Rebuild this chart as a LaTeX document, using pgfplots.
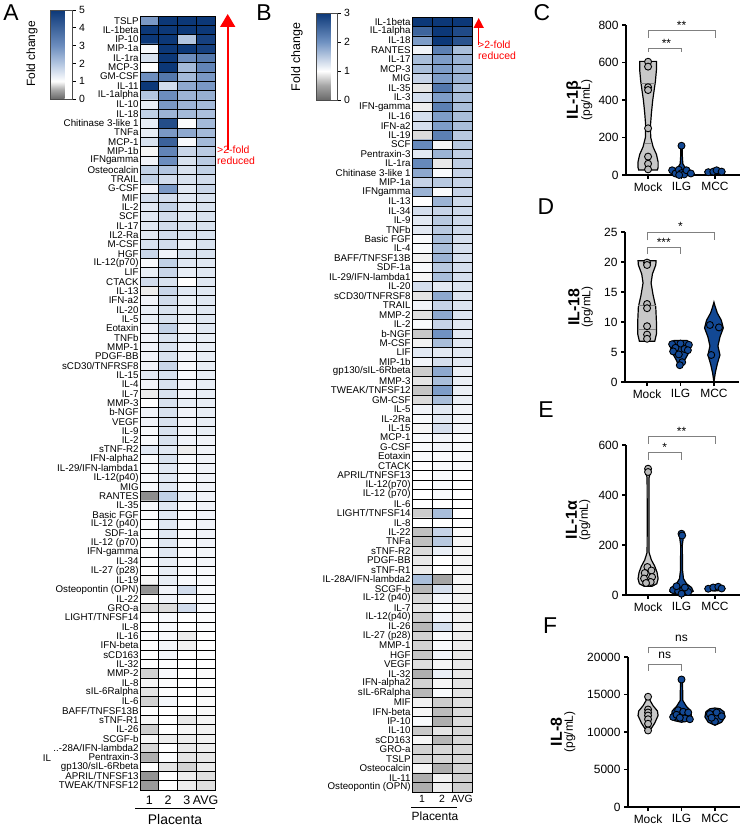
\documentclass[border=0pt]{standalone}
\usepackage{pgfplots}
\pgfplotsset{compat=1.18}
\usepackage{fontspec}
\setmainfont{Liberation Sans}
\usetikzlibrary{arrows.meta}
\definecolor{vblue}{RGB}{18,72,148}
\definecolor{vgray}{RGB}{200,200,200}
\definecolor{pgray}{RGB}{185,185,185}
\definecolor{bgray}{RGB}{128,128,128}
\pgfplotsset{
 colormap={heatA}{rgb255(0cm)=(105,105,105) rgb255(0.5cm)=(165,165,165) rgb255(1cm)=(255,255,255) rgb255(2cm)=(178,197,224) rgb255(3cm)=(108,141,190) rgb255(5cm)=(12,56,120)},
 colormap={heatB}{rgb255(0cm)=(105,105,105) rgb255(0.5cm)=(165,165,165) rgb255(1cm)=(255,255,255) rgb255(2cm)=(112,146,194) rgb255(3cm)=(12,56,120)},
 heat/.style={
  scale only axis, enlargelimits=false, y dir=reverse,
  major tick length=0pt, minor tick length=0pt,
  grid=minor, minor grid style={black, line width=0.7pt},
  axis line style={black, line width=0.8pt},
  axis on top,
  yticklabel style={font=\fontsize{9.8}{10}\selectfont, inner sep=1.2pt},
 },
 vio/.style={
  scale only axis, width=114bp, height=150bp,
  axis x line*=bottom, axis y line*=left,
  axis line style={line width=1.2pt,-},
  xmin=-0.66, xmax=2.75,
  xtick={0,1,2}, xticklabels={Mock,ILG,MCC},
  tick style={black, line width=1.2pt},
  major tick length=4bp, tick align=outside,
  tick label style={font=\fontsize{12}{12}\selectfont, /pgf/number format/assume math mode=true},
  clip=false, ymin=0,
  ylabel style={align=center, anchor=center},
  scaled y ticks=false,
  yticklabel style={/pgf/number format/fixed, /pgf/number format/1000 sep={}},
 },
 mockpt/.style={only marks, mark=*, mark size=3.5bp, mark options={fill=pgray, draw=black, line width=0.9pt}},
 bluept/.style={only marks, mark=*, mark size=3.5bp, mark options={fill=vblue, draw=black, line width=0.9pt}},
 mockv/.style={fill=vgray, draw=black, line width=1.2pt},
 bluev/.style={fill=vblue, draw=black, line width=1.2pt},
 brk/.style={bgray, line width=0.8pt},
}
\begin{document}
\begin{tikzpicture}
\useasboundingbox (0,0) rectangle (741bp,827bp);
% ---------------- Panel A ----------------
\begin{axis}[heat,
  at={(140bp,37bp)}, anchor=south west, width=75bp, height=774bp,
  xmin=-0.5, xmax=3.5, ymin=-0.5, ymax=82.5,
  colormap name=heatA, point meta min=0, point meta max=5,
  xtick={0,1,2,3}, xticklabels={1,2,3,AVG},
  xticklabel style={font=\fontsize{12.5}{12.5}\selectfont, yshift=-2bp},
  minor xtick={0.5,1.5,2.5}, minor ytick={0.5,1.5,...,81.5},
  ytick={0,...,82},
  yticklabels={TSLP,IL-1beta,IP-10,MIP-1a,IL-1ra,MCP-3,GM-CSF,IL-11,IL-1alpha,IL-10,IL-18,Chitinase 3-like 1,TNFa,MCP-1,MIP-1b,IFNgamma,Osteocalcin,TRAIL,G-CSF,MIF,IL-2,SCF,IL-17,IL2-Ra,M-CSF,HGF,IL-12(p70),LIF,CTACK,IL-13,IFN-a2,IL-20,IL-5,Eotaxin,TNFb,MMP-1,PDGF-BB,sCD30/TNFRSF8,IL-15,IL-4,IL-7,MMP-3,b-NGF,VEGF,IL-9,IL-2,sTNF-R2,IFN-alpha2,IL-29/IFN-lambda1,IL-12(p40),MIG,RANTES,IL-35,Basic FGF,IL-12 (p40),SDF-1a,IL-12 (p70),IFN-gamma,IL-34,IL-27 (p28),IL-19,Osteopontin (OPN),IL-22,GRO-a,LIGHT/TNFSF14,IL-8,IL-16,IFN-beta,sCD163,IL-32,MMP-2,IL-8,sIL-6Ralpha,IL-6,BAFF/TNFSF13B,sTNF-R1,IL-26,SCGF-b,..-28A/IFN-lambda2,Pentraxin-3,gp130/sIL-6Rbeta,APRIL/TNFSF13,TWEAK/TNFSF12},
  colorbar,
  colorbar style={
    at={(parent axis.north west)}, anchor=north west,
    xshift=-98bp, yshift=6bp,
    scale only axis, width=22bp, height=89bp,
    grid=none, ytick={0,1,2,3,4,5}, ytick pos=right,
    major tick length=3bp, tick align=outside,
    tick style={black, line width=0.6pt},
    yticklabel style={font=\fontsize{10.5}{10.5}\selectfont, /pgf/number format/assume math mode=true},
    axis line style={draw=black!70, line width=0.5pt},
  },
]
\addplot[matrix plot*, mesh/cols=4, mesh input=image, point meta=explicit] table[x=x, y=y, meta=c, row sep=\\] {
x y c\\
0 0 2.8\\ 1 0 5\\ 2 0 5\\ 3 0 5\\
0 1 5\\ 1 1 5\\ 2 1 5\\ 3 1 5\\
0 2 5\\ 1 2 5\\ 2 2 2.0\\ 3 2 4.8\\
0 3 1.1\\ 1 3 5\\ 2 3 5\\ 3 3 4.8\\
0 4 1.5\\ 1 4 5\\ 2 4 3.0\\ 3 4 3.5\\
0 5 1.0\\ 1 5 5\\ 2 5 2.2\\ 3 5 3.2\\
0 6 3.0\\ 1 6 3.5\\ 2 6 2.2\\ 3 6 2.8\\
0 7 5\\ 1 7 1.6\\ 2 7 2.5\\ 3 7 2.8\\
0 8 2.0\\ 1 8 3.0\\ 2 8 2.3\\ 3 8 2.4\\
0 9 1.3\\ 1 9 2.8\\ 2 9 2.3\\ 3 9 2.2\\
0 10 1.8\\ 1 10 2.3\\ 2 10 2.2\\ 3 10 2.1\\
0 11 1.3\\ 1 11 4.5\\ 2 11 1.05\\ 3 11 2.2\\
0 12 1.3\\ 1 12 2.8\\ 2 12 2.5\\ 3 12 2.2\\
0 13 1.5\\ 1 13 4.0\\ 2 13 1.1\\ 3 13 2.2\\
0 14 0.95\\ 1 14 3.2\\ 2 14 1.7\\ 3 14 1.9\\
0 15 1.2\\ 1 15 3.0\\ 2 15 1.5\\ 3 15 1.9\\
0 16 1.8\\ 1 16 2.0\\ 2 16 1.5\\ 3 16 1.8\\
0 17 1.8\\ 1 17 1.6\\ 2 17 1.5\\ 3 17 1.6\\
0 18 1.2\\ 1 18 2.8\\ 2 18 1.4\\ 3 18 1.7\\
0 19 1.6\\ 1 19 1.6\\ 2 19 1.4\\ 3 19 1.5\\
0 20 1.4\\ 1 20 1.8\\ 2 20 1.4\\ 3 20 1.5\\
0 21 1.4\\ 1 21 1.6\\ 2 21 1.4\\ 3 21 1.5\\
0 22 1.4\\ 1 22 1.6\\ 2 22 1.5\\ 3 22 1.5\\
0 23 1.4\\ 1 23 1.6\\ 2 23 1.5\\ 3 23 1.5\\
0 24 1.5\\ 1 24 1.6\\ 2 24 1.3\\ 3 24 1.5\\
0 25 1.7\\ 1 25 1.2\\ 2 25 1.5\\ 3 25 1.5\\
0 26 1.1\\ 1 26 1.8\\ 2 26 1.4\\ 3 26 1.4\\
0 27 1.3\\ 1 27 1.7\\ 2 27 1.3\\ 3 27 1.4\\
0 28 1.6\\ 1 28 1.5\\ 2 28 1.0\\ 3 28 1.4\\
0 29 0.9\\ 1 29 1.7\\ 2 29 1.4\\ 3 29 1.4\\
0 30 1.2\\ 1 30 1.6\\ 2 30 1.3\\ 3 30 1.4\\
0 31 1.3\\ 1 31 1.5\\ 2 31 1.3\\ 3 31 1.4\\
0 32 1.3\\ 1 32 1.5\\ 2 32 1.3\\ 3 32 1.4\\
0 33 1.2\\ 1 33 1.8\\ 2 33 1.2\\ 3 33 1.4\\
0 34 1.2\\ 1 34 1.5\\ 2 34 1.3\\ 3 34 1.3\\
0 35 1.2\\ 1 35 1.5\\ 2 35 1.2\\ 3 35 1.3\\
0 36 1.2\\ 1 36 1.5\\ 2 36 1.2\\ 3 36 1.3\\
0 37 1.2\\ 1 37 1.7\\ 2 37 1.1\\ 3 37 1.3\\
0 38 1.4\\ 1 38 1.5\\ 2 38 1.1\\ 3 38 1.3\\
0 39 1.2\\ 1 39 1.5\\ 2 39 1.2\\ 3 39 1.3\\
0 40 0.9\\ 1 40 1.5\\ 2 40 1.2\\ 3 40 1.3\\
0 41 1.0\\ 1 41 1.5\\ 2 41 1.3\\ 3 41 1.3\\
0 42 1.2\\ 1 42 1.5\\ 2 42 1.2\\ 3 42 1.3\\
0 43 1.2\\ 1 43 1.5\\ 2 43 1.2\\ 3 43 1.3\\
0 44 1.1\\ 1 44 1.5\\ 2 44 1.2\\ 3 44 1.3\\
0 45 1.1\\ 1 45 1.5\\ 2 45 1.2\\ 3 45 1.2\\
0 46 1.4\\ 1 46 1.4\\ 2 46 0.9\\ 3 46 1.2\\
0 47 1.1\\ 1 47 1.5\\ 2 47 1.1\\ 3 47 1.2\\
0 48 1.1\\ 1 48 1.4\\ 2 48 1.1\\ 3 48 1.2\\
0 49 1.1\\ 1 49 1.4\\ 2 49 1.1\\ 3 49 1.2\\
0 50 1.1\\ 1 50 1.4\\ 2 50 1.1\\ 3 50 1.2\\
0 51 0.3\\ 1 51 1.8\\ 2 51 1.3\\ 3 51 1.2\\
0 52 1.1\\ 1 52 1.4\\ 2 52 1.1\\ 3 52 1.2\\
0 53 1.05\\ 1 53 1.4\\ 2 53 1.1\\ 3 53 1.2\\
0 54 1.05\\ 1 54 1.4\\ 2 54 1.1\\ 3 54 1.2\\
0 55 1.05\\ 1 55 1.4\\ 2 55 1.1\\ 3 55 1.2\\
0 56 1.05\\ 1 56 1.4\\ 2 56 1.1\\ 3 56 1.2\\
0 57 1.05\\ 1 57 1.4\\ 2 57 1.1\\ 3 57 1.15\\
0 58 1.05\\ 1 58 1.3\\ 2 58 1.1\\ 3 58 1.15\\
0 59 1.0\\ 1 59 1.3\\ 2 59 1.1\\ 3 59 1.1\\
0 60 0.95\\ 1 60 1.3\\ 2 60 1.1\\ 3 60 1.1\\
0 61 0.35\\ 1 61 1.2\\ 2 61 1.6\\ 3 61 1.1\\
0 62 1.0\\ 1 62 1.2\\ 2 62 1.05\\ 3 62 1.1\\
0 63 0.8\\ 1 63 0.8\\ 2 63 1.6\\ 3 63 1.1\\
0 64 1.0\\ 1 64 1.1\\ 2 64 1.0\\ 3 64 1.05\\
0 65 1.0\\ 1 65 1.1\\ 2 65 1.0\\ 3 65 1.05\\
0 66 1.05\\ 1 66 1.1\\ 2 66 0.9\\ 3 66 1.0\\
0 67 1.0\\ 1 67 1.15\\ 2 67 0.92\\ 3 67 1.0\\
0 68 1.0\\ 1 68 1.15\\ 2 68 1.0\\ 3 68 1.05\\
0 69 1.0\\ 1 69 1.05\\ 2 69 1.0\\ 3 69 1.0\\
0 70 0.75\\ 1 70 1.1\\ 2 70 1.0\\ 3 70 0.97\\
0 71 0.95\\ 1 71 1.05\\ 2 71 1.0\\ 3 71 1.0\\
0 72 0.85\\ 1 72 1.05\\ 2 72 1.0\\ 3 72 0.97\\
0 73 0.75\\ 1 73 1.15\\ 2 73 1.0\\ 3 73 0.97\\
0 74 1.0\\ 1 74 1.0\\ 2 74 1.0\\ 3 74 0.96\\
0 75 0.95\\ 1 75 1.0\\ 2 75 0.88\\ 3 75 0.94\\
0 76 0.72\\ 1 76 1.0\\ 2 76 0.95\\ 3 76 0.92\\
0 77 0.95\\ 1 77 0.9\\ 2 77 0.9\\ 3 77 0.92\\
0 78 0.78\\ 1 78 1.0\\ 2 78 0.88\\ 3 78 0.9\\
0 79 0.55\\ 1 79 1.05\\ 2 79 0.85\\ 3 79 0.86\\
0 80 1.0\\ 1 80 0.85\\ 2 80 0.75\\ 3 80 0.88\\
0 81 0.35\\ 1 81 1.0\\ 2 81 0.9\\ 3 81 0.82\\
0 82 0.4\\ 1 82 1.0\\ 2 82 0.9\\ 3 82 0.82\\
};
\end{axis}
% ---------------- Panel B ----------------
\begin{axis}[heat,
  at={(412bp,35bp)}, anchor=south west, width=60bp, height=775bp,
  xmin=-0.5, xmax=2.5, ymin=-0.5, ymax=81.5,
  colormap name=heatB, point meta min=0, point meta max=3,
  xtick={0,1,2}, xticklabels={1,2,AVG},
  xticklabel style={font=\fontsize{10.5}{10.5}\selectfont},
  minor xtick={0.5,1.5}, minor ytick={0.5,1.5,...,80.5},
  ytick={0,...,81},
  yticklabels={IL-1beta,IL-1alpha,IL-18,RANTES,IL-17,MCP-3,MIG,IL-35,IL-3,IFN-gamma,IL-16,IFN-a2,IL-19,SCF,Pentraxin-3,IL-1ra,Chitinase 3-like 1,MIP-1a,IFNgamma,IL-13,IL-34,IL-9,TNFb,Basic FGF,IL-4,BAFF/TNFSF13B,SDF-1a,IL-29/IFN-lambda1,IL-20,sCD30/TNFRSF8,TRAIL,MMP-2,IL-2,b-NGF,M-CSF,LIF,MIP-1b,gp130/sIL-6Rbeta,MMP-3,TWEAK/TNFSF12,GM-CSF,IL-5,IL-2Ra,IL-15,MCP-1,G-CSF,Eotaxin,CTACK,APRIL/TNFSF13,IL-12(p70),IL-12 (p70),IL-6,LIGHT/TNFSF14,IL-8,IL-22,TNFa,sTNF-R2,PDGF-BB,sTNF-R1,IL-28A/IFN-lambda2,SCGF-b,IL-12 (p40),IL-7,IL-12(p40),IL-26,IL-27 (p28),MMP-1,HGF,VEGF,IL-32,IFN-alpha2,sIL-6Ralpha,MIF,IFN-beta,IP-10,IL-10,sCD163,GRO-a,TSLP,Osteocalcin,IL-11,Osteopontin (OPN)},
  colorbar,
  colorbar style={
    at={(parent axis.north west)}, anchor=north west,
    xshift=-104bp, yshift=4bp,
    scale only axis, width=21bp, height=87bp,
    grid=none, ytick={0,1,2,3}, ytick pos=right,
    major tick length=3bp, tick align=outside,
    tick style={black, line width=0.6pt},
    yticklabel style={font=\fontsize{10.5}{10.5}\selectfont, /pgf/number format/assume math mode=true},
    axis line style={draw=black!70, line width=0.5pt},
  },
]
\addplot[matrix plot*, mesh/cols=3, mesh input=image, point meta=explicit] table[x=x, y=y, meta=c, row sep=\\] {
x y c\\
0 0 3\\ 1 0 3\\ 2 0 3\\
0 1 2.5\\ 1 1 3\\ 2 1 2.8\\
0 2 1.9\\ 1 2 3\\ 2 2 2.7\\
0 3 1.1\\ 1 3 2.2\\ 2 3 1.6\\
0 4 1.6\\ 1 4 1.9\\ 2 4 1.7\\
0 5 1.6\\ 1 5 1.9\\ 2 5 1.7\\
0 6 1.4\\ 1 6 1.9\\ 2 6 1.7\\
0 7 0.85\\ 1 7 2.3\\ 2 7 1.6\\
0 8 1.3\\ 1 8 1.9\\ 2 8 1.6\\
0 9 0.9\\ 1 9 2.2\\ 2 9 1.6\\
0 10 1.3\\ 1 10 1.9\\ 2 10 1.6\\
0 11 1.3\\ 1 11 1.9\\ 2 11 1.6\\
0 12 0.8\\ 1 12 2.2\\ 2 12 1.5\\
0 13 2.1\\ 1 13 0.95\\ 2 13 1.5\\
0 14 1.2\\ 1 14 1.7\\ 2 14 1.45\\
0 15 2.1\\ 1 15 0.88\\ 2 15 1.45\\
0 16 1.8\\ 1 16 1.05\\ 2 16 1.4\\
0 17 1.4\\ 1 17 1.5\\ 2 17 1.4\\
0 18 1.7\\ 1 18 1.05\\ 2 18 1.4\\
0 19 1.0\\ 1 19 1.7\\ 2 19 1.35\\
0 20 1.3\\ 1 20 1.4\\ 2 20 1.35\\
0 21 1.2\\ 1 21 1.5\\ 2 21 1.35\\
0 22 1.2\\ 1 22 1.5\\ 2 22 1.35\\
0 23 1.05\\ 1 23 1.6\\ 2 23 1.3\\
0 24 1.05\\ 1 24 1.6\\ 2 24 1.3\\
0 25 0.92\\ 1 25 1.7\\ 2 25 1.3\\
0 26 1.05\\ 1 26 1.5\\ 2 26 1.3\\
0 27 0.95\\ 1 27 1.6\\ 2 27 1.3\\
0 28 1.3\\ 1 28 1.2\\ 2 28 1.25\\
0 29 0.85\\ 1 29 1.8\\ 2 29 1.25\\
0 30 1.1\\ 1 30 1.4\\ 2 30 1.25\\
0 31 0.82\\ 1 31 1.8\\ 2 31 1.25\\
0 32 1.05\\ 1 32 1.4\\ 2 32 1.2\\
0 33 0.7\\ 1 33 2.0\\ 2 33 1.2\\
0 34 0.93\\ 1 34 1.6\\ 2 34 1.2\\
0 35 1.2\\ 1 35 1.2\\ 2 35 1.2\\
0 36 1.1\\ 1 36 1.3\\ 2 36 1.2\\
0 37 0.72\\ 1 37 1.8\\ 2 37 1.15\\
0 38 0.85\\ 1 38 1.6\\ 2 38 1.15\\
0 39 0.68\\ 1 39 1.9\\ 2 39 1.15\\
0 40 0.8\\ 1 40 1.6\\ 2 40 1.15\\
0 41 1.1\\ 1 41 1.2\\ 2 41 1.1\\
0 42 1.05\\ 1 42 1.2\\ 2 42 1.1\\
0 43 0.95\\ 1 43 1.3\\ 2 43 1.1\\
0 44 1.05\\ 1 44 1.1\\ 2 44 1.05\\
0 45 1.05\\ 1 45 1.1\\ 2 45 1.05\\
0 46 1.05\\ 1 46 1.05\\ 2 46 1.05\\
0 47 1.0\\ 1 47 1.05\\ 2 47 1.05\\
0 48 1.0\\ 1 48 1.05\\ 2 48 1.0\\
0 49 1.0\\ 1 49 1.05\\ 2 49 1.0\\
0 50 1.0\\ 1 50 1.05\\ 2 50 1.0\\
0 51 1.0\\ 1 51 1.0\\ 2 51 1.0\\
0 52 0.72\\ 1 52 1.6\\ 2 52 1.0\\
0 53 1.0\\ 1 53 1.0\\ 2 53 1.0\\
0 54 0.65\\ 1 54 1.4\\ 2 54 0.97\\
0 55 0.65\\ 1 55 1.5\\ 2 55 0.95\\
0 56 0.8\\ 1 56 1.15\\ 2 56 0.95\\
0 57 0.88\\ 1 57 1.0\\ 2 57 0.95\\
0 58 0.9\\ 1 58 1.0\\ 2 58 0.95\\
0 59 1.6\\ 1 59 0.5\\ 2 59 0.95\\
0 60 0.6\\ 1 60 1.3\\ 2 60 0.93\\
0 61 0.78\\ 1 61 1.1\\ 2 61 0.93\\
0 62 0.85\\ 1 62 1.05\\ 2 62 0.93\\
0 63 0.72\\ 1 63 1.1\\ 2 63 0.92\\
0 64 0.6\\ 1 64 1.3\\ 2 64 0.92\\
0 65 0.75\\ 1 65 1.05\\ 2 65 0.9\\
0 66 0.75\\ 1 66 1.05\\ 2 66 0.9\\
0 67 0.68\\ 1 67 1.1\\ 2 67 0.88\\
0 68 0.82\\ 1 68 0.95\\ 2 68 0.88\\
0 69 0.55\\ 1 69 1.15\\ 2 69 0.87\\
0 70 0.75\\ 1 70 0.95\\ 2 70 0.85\\
0 71 0.6\\ 1 71 1.05\\ 2 71 0.85\\
0 72 0.92\\ 1 72 0.72\\ 2 72 0.83\\
0 73 0.95\\ 1 73 0.62\\ 2 73 0.8\\
0 74 1.05\\ 1 74 0.55\\ 2 74 0.8\\
0 75 0.7\\ 1 75 0.85\\ 2 75 0.78\\
0 76 0.95\\ 1 76 0.6\\ 2 76 0.78\\
0 77 0.75\\ 1 77 0.78\\ 2 77 0.78\\
0 78 0.78\\ 1 78 0.78\\ 2 78 0.78\\
0 79 0.95\\ 1 79 0.55\\ 2 79 0.75\\
0 80 0.55\\ 1 80 0.92\\ 2 80 0.73\\
0 81 0.55\\ 1 81 0.9\\ 2 81 0.72\\
};
\end{axis}
% ---------------- Panel C ----------------
\begin{axis}[vio, at={(626bp,652bp)}, anchor=south west,
  ymax=800, ytick={0,200,400,600,800},
  ylabel={{\fontsize{16}{16}\selectfont\bfseries IL-1β}\\[-1pt]{\fontsize{12}{13}\selectfont (pg/mL)}},
  ylabel style={at={(axis description cs:-0.41,0.5)}}]
\addplot[mockv] coordinates {(0.28,27)(0.30,40)(0.30,70)(0.25,110)(0.15,150)(0.08,200)(0.07,260)(0.10,330)(0.14,400)(0.18,450)(0.22,500)(0.25,560)(0.25,606)(-0.25,606)(-0.25,560)(-0.22,500)(-0.18,450)(-0.14,400)(-0.10,330)(-0.07,260)(-0.08,200)(-0.15,150)(-0.25,110)(-0.30,70)(-0.30,40)(-0.28,27)} -- cycle;
\addplot[bgray, line width=0.6pt] coordinates {(-0.085,169)(0.085,169)};
\addplot[bgray, line width=0.6pt] coordinates {(-0.2,489)(0.2,489)};
\addplot[mockpt] coordinates {(0,604)(0,578)(0,468)(0,453)(0,249)(0,98)(0,60)(0,30)};
\addplot[bluev] coordinates {(1.22,0)(1.30,12)(1.25,28)(1.10,42)(1.04,60)(1.025,100)(1.025,158)(0.975,158)(0.975,100)(0.96,60)(0.90,42)(0.75,28)(0.70,12)(0.78,0)} -- cycle;
\addplot[bluept] coordinates {(1,156)(0.72,25)(0.82,8)(0.92,28)(1.0,10)(1.08,3)(1.15,25)(1.28,8)(0.93,0)};
\addplot[bluev] coordinates {(2.28,8)(2.30,18)(2.22,28)(1.78,28)(1.70,18)(1.72,8)} -- cycle;
\addplot[bluept] coordinates {(1.8,15)(1.95,18)(2.05,25)(2.2,18)};
\addplot[brk] coordinates {(0,733)(0,773)(2,773)(2,733)};
\addplot[brk] coordinates {(0,655)(0,677)(1,677)(1,655)};
\node[anchor=base, font=\fontsize{12}{12}\selectfont, inner sep=0pt] at (axis cs:1,776) {**};
\node[anchor=base, font=\fontsize{12}{12}\selectfont, inner sep=0pt] at (axis cs:0.55,680) {**};
\end{axis}
% ---------------- Panel D ----------------
\begin{axis}[vio, at={(625bp,445bp)}, anchor=south west,
  ymax=25, ytick={0,5,10,15,20,25},
  ylabel={{\fontsize{16}{16}\selectfont\bfseries IL-18}\\[-1pt]{\fontsize{12}{13}\selectfont (pg/mL)}},
  ylabel style={at={(axis description cs:-0.39,0.5)}}]
\addplot[mockv] coordinates {(0.23,6.8)(0.28,8)(0.28,10)(0.26,12.5)(0.18,14.5)(0.12,16.5)(0.16,18)(0.26,19.5)(0.27,20.2)(-0.27,20.2)(-0.26,19.5)(-0.16,18)(-0.12,16.5)(-0.18,14.5)(-0.26,12.5)(-0.28,10)(-0.28,8)(-0.23,6.8)} -- cycle;
\addplot[bgray, line width=0.6pt] coordinates {(-0.26,12.75)(0.26,12.75)};
\addplot[bgray, line width=0.6pt] coordinates {(-0.28,8.8)(0.28,8.8)};
\addplot[mockpt] coordinates {(0,19.9)(0,19.5)(0,13.0)(0,12.3)(0,9.3)(0,7.9)(0,7.2)};
\addplot[bluev] coordinates {(1.05,2.6)(1.12,3.6)(1.22,4.6)(1.30,5.8)(1.28,6.6)(1.20,6.9)(0.80,6.9)(0.72,6.6)(0.70,5.8)(0.78,4.6)(0.88,3.6)(0.95,2.6)} -- cycle;
\addplot[bluept] coordinates {(0.75,6.3)(1.0,6.4)(1.25,6.2)(0.85,5.7)(1.12,5.5)(0.78,5.1)(1.22,5.3)(0.95,4.6)(1.05,3.3)(0.98,2.8)};
\addplot[bluev] coordinates {(2.0,0)(2.04,1.5)(2.1,3)(2.18,4.5)(2.12,6)(2.18,7.5)(2.28,9)(2.22,10.3)(2.1,11.5)(2.03,12.7)(2.0,13.3)(1.97,12.7)(1.9,11.5)(1.78,10.3)(1.72,9)(1.82,7.5)(1.88,6)(1.82,4.5)(1.9,3)(1.96,1.5)} -- cycle;
\addplot[bluept] coordinates {(1.88,9.5)(2.15,9.1)(1.92,4.5)};
\addplot[brk] coordinates {(0,23.6)(0,25)(2,25)(2,23.6)};
\addplot[brk] coordinates {(0,21.3)(0,22.4)(1,22.4)(1,21.3)};
\node[anchor=base, font=\fontsize{12}{12}\selectfont, inner sep=0pt] at (axis cs:1,25.2) {*};
\node[anchor=base, font=\fontsize{12}{12}\selectfont, inner sep=0pt] at (axis cs:0.5,22.6) {***};
\end{axis}
% ---------------- Panel E ----------------
\begin{axis}[vio, at={(626bp,232bp)}, anchor=south west,
  ymax=600, ytick={0,200,400,600},
  ylabel={{\fontsize{16}{16}\selectfont\bfseries IL-1α}\\[-1pt]{\fontsize{12}{13}\selectfont (pg/mL)}},
  ylabel style={at={(axis description cs:-0.42,0.5)}}]
\addplot[mockv] coordinates {(0.12,35)(0.26,45)(0.30,65)(0.27,90)(0.20,115)(0.10,140)(0.03,170)(0.025,300)(0.03,470)(0.07,490)(0.08,505)(0.04,515)(0,518)(-0.04,515)(-0.08,505)(-0.07,490)(-0.03,470)(-0.025,300)(-0.03,170)(-0.10,140)(-0.20,115)(-0.27,90)(-0.30,65)(-0.26,45)(-0.12,35)} -- cycle;
\addplot[mockpt] coordinates {(0,505)(0,492)(-0.02,112)(0.1,98)(-0.1,88)(0.12,72)(-0.12,66)(0.08,52)(-0.06,48)};
\addplot[bluev] coordinates {(1.0,0)(1.2,3)(1.35,15)(1.3,30)(1.15,45)(1.06,65)(1.03,100)(1.025,200)(1.06,235)(1.08,248)(1.03,255)(1,257)(0.97,255)(0.92,248)(0.94,235)(0.975,200)(0.97,100)(0.94,65)(0.85,45)(0.7,30)(0.65,15)(0.8,3)} -- cycle;
\addplot[bluept] coordinates {(1.0,245)(1.02,238)(0.75,20)(0.9,15)(1.05,22)(1.2,12)(0.85,35)(1.1,30)(1.0,5)};
\addplot[bluev] coordinates {(2.0,16)(2.2,19)(2.3,25)(2.25,32)(2.1,37)(2.0,38)(1.9,37)(1.75,32)(1.7,25)(1.8,19)} -- cycle;
\addplot[bluept] coordinates {(1.8,25)(1.95,30)(2.1,33)(2.2,26)};
\addplot[brk] coordinates {(0,604)(0,633)(2,633)(2,604)};
\addplot[brk] coordinates {(0,539)(0,569)(1,569)(1,539)};
\node[anchor=base, font=\fontsize{12}{12}\selectfont, inner sep=0pt] at (axis cs:1,636) {**};
\node[anchor=base, font=\fontsize{12}{12}\selectfont, inner sep=0pt] at (axis cs:0.5,572) {*};
\end{axis}
% ---------------- Panel F ----------------
\begin{axis}[vio, at={(628bp,20bp)}, anchor=south west, width=112bp,
  xmin=-0.6, xmax=2.75,
  ymax=20000, ytick={0,5000,10000,15000,20000},
  ylabel={{\fontsize{16}{16}\selectfont\bfseries IL-8}\\[-1pt]{\fontsize{12}{13}\selectfont (pg/mL)}},
  ylabel style={at={(axis description cs:-0.58,0.5)}}]
\addplot[mockv] coordinates {(0.0,10000)(0.1,10500)(0.2,11200)(0.3,12200)(0.28,12800)(0.15,13500)(0.06,14200)(0.03,14800)(0,14900)(-0.03,14800)(-0.06,14200)(-0.15,13500)(-0.28,12800)(-0.3,12200)(-0.2,11200)(-0.1,10500)} -- cycle;
\addplot[mockpt] coordinates {(0,14700)(0,13000)(0,12600)(0,12200)(0,11700)(0,11100)(0,10200)};
\addplot[bluev] coordinates {(1.0,11300)(1.2,11500)(1.3,12000)(1.28,12800)(1.15,13400)(1.04,14200)(1.03,16700)(1.0,17100)(0.97,16700)(0.96,14200)(0.85,13400)(0.72,12800)(0.7,12000)(0.8,11500)} -- cycle;
\addplot[bluept] coordinates {(1,17000)(0.75,12000)(0.9,12900)(1.05,12700)(1.2,12600)(0.85,12300)(1.1,11800)(1.25,11700)(0.95,11900)};
\addplot[bluev] coordinates {(2.0,10900)(2.2,11300)(2.3,12000)(2.27,12700)(2.15,13100)(2.0,13200)(1.85,13100)(1.73,12700)(1.7,12000)(1.8,11300)} -- cycle;
\addplot[bluept] coordinates {(1.85,12400)(2.05,12600)(2.2,12100)(2.0,11400)(1.9,11900)};
\addplot[brk] coordinates {(0,20490)(0,21290)(2,21290)(2,20490)};
\addplot[brk] coordinates {(0,18170)(0,19070)(1,19070)(1,18170)};
\node[anchor=base, font=\fontsize{12}{12}\selectfont, inner sep=0pt] at (axis cs:1,22000) {ns};
\node[anchor=base, font=\fontsize{12}{12}\selectfont, inner sep=0pt] at (axis cs:0.5,19800) {ns};
\end{axis}
% ---------------- annotations ----------------
\node[font=\fontsize{23}{23}\selectfont] at (11bp,814bp) {A};
\node[font=\fontsize{23}{23}\selectfont] at (264bp,814bp) {B};
\node[font=\fontsize{23}{23}\selectfont] at (542bp,814bp) {C};
\node[font=\fontsize{23}{23}\selectfont] at (546bp,620bp) {D};
\node[font=\fontsize{23}{23}\selectfont] at (546bp,417bp) {E};
\node[font=\fontsize{23}{23}\selectfont] at (550bp,201bp) {F};
\node[rotate=90, font=\fontsize{12}{12}\selectfont] at (32bp,773bp) {Fold change};
\node[rotate=90, font=\fontsize{12.5}{12.5}\selectfont] at (297bp,770bp) {Fold change};
\draw[red, line width=1.6bp, -{Triangle[width=15bp,length=13bp]}] (227.7bp,677bp) -- (227.7bp,813bp);
\node[anchor=north west, align=left, text=red, font=\fontsize{10.5}{11}\selectfont, inner sep=0pt] at (217bp,681bp) {>2-fold\\reduced};
\draw[red, line width=1.4bp, -{Triangle[width=10bp,length=10bp]}] (478.7bp,782bp) -- (478.7bp,809bp);
\node[anchor=north west, align=left, text=red, font=\fontsize{10.5}{11}\selectfont, inner sep=0pt] at (478bp,786bp) {>2-fold\\reduced};
\node[font=\fontsize{9.8}{10}\selectfont] at (47bp,69bp) {IL};
\draw[line width=0.8pt] (135bp,19bp) -- (215bp,19bp);
\node[font=\fontsize{14}{14}\selectfont] at (175bp,7bp) {Placenta};
\draw[line width=0.8pt] (411bp,20bp) -- (457bp,20bp);
\node[font=\fontsize{12}{12}\selectfont] at (435bp,11bp) {Placenta};
\end{tikzpicture}
\end{document}
